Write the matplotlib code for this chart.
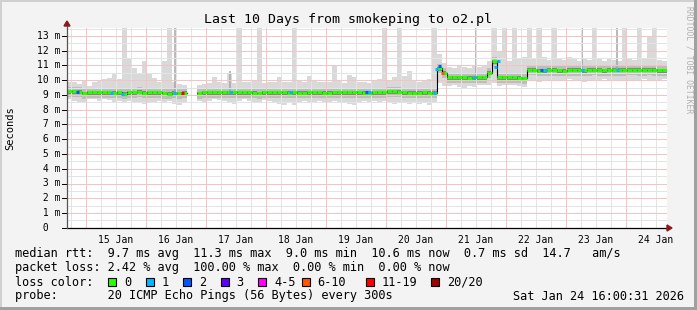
"""Smokeping style 10 day latency graph (smokeping -> o2.pl)."""

import datetime as dt

import matplotlib
matplotlib.use("Agg")
import matplotlib.pyplot as plt
import matplotlib.dates as mdates
import numpy as np
from matplotlib.patches import Rectangle, Polygon

# ---- data (one value per 2 hour column, ms) ----
start = dt.datetime(2026, 1, 14, 16, 24)
step_h = 2.0

median = [9.25, 9.25, 9.22, 9.12, 9.2, 9.2, 9.2, 9.2, 9.18, 9.15, 9.2, 9.1,
          9.2, 9.2, 9.22, 9.15, 9.18, 9.2, 9.2, 9.12, 9.1, 9.15, 9.12, 9.15,
          np.nan, np.nan,
          9.12, 9.2, 9.2, 9.2, 9.18, 9.18, 9.2, 9.18, 9.18, 9.2, 9.2, 9.15,
          9.12, 9.18, 9.18,
          9.2, 9.2, 9.18, 9.15, 9.18, 9.15, 9.15, 9.18, 9.2, 9.18, 9.15, 9.15,
          9.2, 9.2, 9.2, 9.2, 9.2, 9.18,
          9.15, 9.15, 9.2, 9.2, 9.2, 9.25, 9.25, 9.22, 9.2, 9.15, 9.15, 9.15,
          9.18, 9.15, 9.15,
          10.8, 10.5, 10.2, 10.2, 10.2, 10.2, 10.18, 10.2, 10.22, 10.22,
          10.5, 11.3, 10.2, 10.2, 10.2, 10.2, 10.18, 10.15,
          10.72, 10.72, 10.65, 10.68, 10.7, 10.7, 10.68, 10.65, 10.7, 10.7,
          10.7, 10.68, 10.7, 10.72, 10.7, 10.68, 10.7, 10.7, 10.7, 10.7,
          10.72, 10.72, 10.7, 10.7, 10.72, 10.7, 10.68, 10.68]

smoke_lo = [8.7, 8.6, 8.5, 8.55, 8.7, 8.75, 8.6, 8.7, 8.65, 8.5, 8.6, 8.55,
            8.6, 8.5, 8.55, 8.4, 8.5, 8.45, 8.6, 8.45, 8.6, 8.4, 8.35, 8.5,
            np.nan, np.nan,
            8.6, 8.5, 8.6, 8.7, 8.65, 8.6, 8.5, 8.4, 8.6, 8.7, 8.6, 8.55, 8.5,
            8.65, 8.6, 8.5, 8.4, 8.3, 8.45, 8.3, 8.5, 8.6, 8.55, 8.5, 8.6,
            8.55, 8.5, 8.6, 8.5, 8.45, 8.4, 8.3, 8.5,
            8.6, 8.55, 8.6, 8.5, 8.6, 8.45, 8.4, 8.5, 8.45, 8.4, 8.5, 8.4,
            8.45, 8.3, 8.5,
            9.8, 9.6, 9.6, 9.7, 9.55, 9.5, 9.6, 9.55, 9.65, 9.7, 9.7, 9.8,
            9.6, 9.7, 9.65, 9.7, 9.6, 9.55,
            10.05, 10.0, 9.9, 10.0, 10.05, 10.0, 10.0, 10.05, 10.1, 10.0,
            10.05, 9.85, 10.0, 10.05, 10.0, 10.1, 10.0, 10.05, 9.95, 10.05,
            10.0, 10.05, 10.0, 10.1, 10.05, 10.0, 10.05, 10.1]

smoke_hi = [9.9, 9.85, 9.75, 9.95, 9.6, 9.85, 10.05, 10.1, 10.15, 10.45,
            10.1, 14.0, 11.5, 10.85, 10.4, 11.3, 10.45, 10.15, 9.9, 11.3,
            14.0, 9.9, 9.75, 9.7,
            np.nan, np.nan,
            9.7, 9.75, 9.8, 10.2, 9.9, 9.8, 10.5, 9.8, 14.0, 9.85, 9.9, 10.0,
            14.0, 9.8, 9.9, 9.9, 10.2, 9.9, 9.85, 14.0, 10.0, 9.9, 10.3, 10.0,
            9.85, 9.9, 9.9, 11.0, 10.0, 9.8, 10.35, 10.2, 9.9,
            9.9, 9.8, 10.0, 10.1, 14.0, 10.0, 10.2, 14.0, 10.3, 10.6, 10.0,
            9.9, 10.0, 10.1, 14.0,
            11.8, 11.2, 10.9, 10.8, 11.0, 10.9, 10.8, 11.0, 10.9, 11.0, 11.3,
            14.0, 12.0, 14.0, 11.3, 14.0, 11.5, 11.6,
            14.0, 11.5, 14.0, 11.6, 11.4, 14.0, 11.5, 11.4, 11.6, 11.5, 11.3,
            11.5, 11.4, 14.0, 11.5, 11.3, 11.5, 11.4, 11.3, 14.0, 11.5, 11.4,
            14.0, 11.5, 13.0, 14.0, 11.4, 11.3]

# thin darker spikes (hours after start, top in ms)
spike_hours = [43.2, 65.2, 163.6, 206.0, 220.0]
spike_top = [14.0, 10.6, 14.0, 14.0, 14.0]

# samples with packet loss (hours after start, loss class, rtt ms)
loss_hours = [4.0, 17.6, 22.0, 42.8, 46.0, 65.2, 89.2, 119.6, 121.0,
              147.0, 147.6, 148.8, 150.0, 162.8, 171.2, 172.4, 189.6, 191.2,
              206.0, 220.0]
loss_class = [2, 1, 1, 1, 6, 1, 1, 2, 1, 1, 1, 2, 5, 1, 1, 1, 2, 1, 1, 1]
loss_rtt = [9.22, 9.15, 9.1, 9.12, 9.15, 9.18, 9.18, 9.18, 9.18,
            9.15, 10.75, 10.95, 10.5, 10.2, 10.9, 11.3, 10.7, 10.68,
            10.68, 10.7]

loss_labels = ["0", "1", "2", "3", "4-5", "6-10", "11-19", "20/20"]
loss_colors = ["#26ff00", "#00b8ff", "#0059ff", "#5e00ff", "#ff00ff",
               "#ff5500", "#ff0000", "#a10000"]

day_labels = ["15 Jan", "16 Jan", "17 Jan", "18 Jan", "19 Jan",
              "20 Jan", "21 Jan", "22 Jan", "23 Jan", "24 Jan"]

stats_rtt = "median rtt:  9.7 ms avg  11.3 ms max  9.0 ms min  10.6 ms now  0.7 ms sd  14.7   am/s"
stats_loss = "packet loss: 2.42 % avg  100.00 % max  0.00 % min  0.00 % now"
probe_line = "probe:       20 ICMP Echo Pings (56 Bytes) every 300s"
stamp = "Sat Jan 24 16:00:31 2026"

# ---- figure ----
W, H = 697, 310
MONO = "DejaVu Sans Mono"
plt.rcParams["font.family"] = MONO

fig = plt.figure(figsize=(W / 100, H / 100), dpi=100, facecolor="#f3f3f3")


def fig_rect(x, y, w, h, **kw):
    # rectangle in pixel units, y measured from the top
    fig.patches.append(Rectangle((x / W, 1 - (y + h) / H), w / W, h / H,
                                 transform=fig.transFigure, **kw))


# 3d frame
fig_rect(0, 0, 2, H, color="#d0d0d0", lw=0)
fig_rect(0, 0, W, 2, color="#d0d0d0", lw=0)
fig_rect(W - 3, 0, 3, H, color="#a0a0a0", lw=0)
fig_rect(0, H - 3, W, 3, color="#a0a0a0", lw=0)

px_left, px_right, px_top, px_bottom = 67, 667, 28, 227.75
ax = fig.add_axes([px_left / W, 1 - px_bottom / H,
                   (px_right - px_left) / W, (px_bottom - px_top) / H])
ax.set_facecolor("white")
for s in ax.spines.values():
    s.set_visible(False)

t0 = mdates.date2num(start)
n = len(median)
edges = t0 + np.arange(n + 1) * step_h / 24
left = edges[:-1]
width = step_h / 24
med = np.array(median)
lo = np.array(smoke_lo)
hi = np.array(smoke_hi)

# smoke
ax.bar(left, hi - lo, bottom=lo, width=width, align="edge",
       color="#d9d9d9", lw=0, zorder=1)
b2_lo = np.maximum(med - 0.38, lo)
b2_hi = np.minimum(med + 0.3, hi)
ax.bar(left, b2_hi - b2_lo, bottom=b2_lo, width=width, align="edge",
       color="#bdbdbd", lw=0, zorder=1.1)
ax.bar(left, 0.27, bottom=med - 0.17, width=width, align="edge",
       color="#858585", lw=0, zorder=1.2)
sx = t0 + np.array(spike_hours) / 24
ax.vlines(sx, [median[int(h // step_h)] for h in spike_hours], spike_top,
          colors="#a5a5a5", lw=1.1, zorder=1.3)

# grid (pale, looks like the dotted rrdtool grid at full size)
xmin, xmax = t0, t0 + 10
ymax = (px_bottom - px_top) / 14.75
ax.set_xlim(xmin, xmax)
ax.set_ylim(0, ymax)
minor_x = mdates.date2num(dt.datetime(2026, 1, 14, 18)) + np.arange(0, 10, 0.25)
major_x = mdates.date2num(dt.datetime(2026, 1, 15)) + np.arange(10)
grid_kw = dict(lw=0.72, antialiased=False)
ax.vlines([m for m in minor_x if m < xmax], 0, ymax, colors="#e3e3e3",
          zorder=2, **grid_kw)
ax.hlines(np.arange(0.5, ymax, 1.0), xmin, xmax, colors="#e3e3e3",
          zorder=2, **grid_kw)
ax.vlines(major_x, 0, ymax, colors="#f5c3c3", zorder=2.1, **grid_kw)
ax.hlines(np.arange(1, 14), xmin, xmax, colors="#f5c3c3", zorder=2.1,
          **grid_kw)

# median line, green where no loss
ax.step(edges, np.append(med, med[-1]), where="post", color="black",
        lw=0.8, zorder=3)
ax.hlines(med, edges[:-1], edges[1:], colors=loss_colors[0], lw=2.2, zorder=3.1)
lh = t0 + np.array(loss_hours) / 24
ax.hlines(loss_rtt, lh - 0.6 / 24, lh + 0.6 / 24,
          colors=[loss_colors[c] for c in loss_class], lw=2.2, zorder=3.2)

# axes lines + arrows
ax.plot([xmin, xmin + 10.01], [0, 0], color="black", lw=0.9, clip_on=False, zorder=4)
ax.plot([xmin, xmin], [0, ymax + 0.2], color="#555555", lw=0.9, clip_on=False, zorder=4)
arrow_c = "#8b1a1a"
fig.patches.append(Polygon([[667 / W, 1 - 225 / H], [667 / W, 1 - 231 / H],
                            [672 / W, 1 - 228 / H]], closed=True,
                           transform=fig.transFigure, color=arrow_c))
fig.patches.append(Polygon([[64 / W, 1 - 26 / H], [70 / W, 1 - 26 / H],
                            [67 / W, 1 - 21 / H]], closed=True,
                           transform=fig.transFigure, color=arrow_c))

# ticks
ax.set_xticks(major_x + 0.5)
ax.set_xticklabels(day_labels, fontsize=7, family=MONO)
ax.tick_params(axis="x", length=0, pad=5)
ax.set_yticks([])
ytr = ax.get_yaxis_transform()
for v in range(14):
    lab = " 0" if v == 0 else "%2d m" % v
    ax.text(-0.05, v, lab, transform=ytr, ha="left", va="center",
            fontsize=7, family=MONO)
    ax.plot([-0.008, 0], [v, v], transform=ytr, color="black", lw=0.7,
            clip_on=False)

fig.text(10 / W, 1 - 128 / H, "Seconds", rotation=90, ha="center",
         va="center", fontsize=7.5)
fig.text(0.499, 1 - 19 / H, "Last 10 Days from smokeping to o2.pl",
         ha="center", va="center", fontsize=9.5)
fig.text(689 / W, 1 - 60 / H, "RRDTOOL / TOBI OETIKER", rotation=270,
         ha="center", va="center", fontsize=5.8, color="#b0b0b0")

# legend block
fs = 8.55
fig.text(15 / W, 1 - 254 / H, stats_rtt, ha="left", va="center", fontsize=fs)
fig.text(15 / W, 1 - 268 / H, stats_loss, ha="left", va="center", fontsize=fs)
fig.text(15 / W, 1 - 282 / H, "loss color:", ha="left", va="center", fontsize=fs)
box_x = [108, 145.5, 183, 220.5, 258, 301.5, 366, 431]
for bx, lab, col in zip(box_x, loss_labels, loss_colors):
    fig_rect(bx, 278, 8, 8, facecolor=col, edgecolor="black", lw=0.8)
    fig.text((bx + 16) / W, 1 - 282 / H, lab, ha="left", va="center", fontsize=fs)
fig.text(15 / W, 1 - 296 / H, probe_line, ha="left", va="center", fontsize=fs)
fig.text(513 / W, 1 - 296 / H, stamp, ha="left", va="center", fontsize=fs)

fig.savefig("out.png", dpi=100, facecolor=fig.get_facecolor())
